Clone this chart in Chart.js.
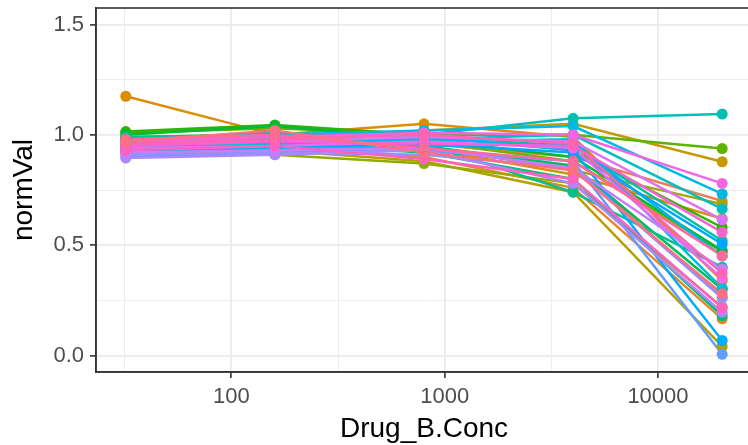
<!DOCTYPE html>
<html>
<head>
<meta charset="utf-8">
<script src="https://cdn.jsdelivr.net/npm/chart.js@4.4.1/dist/chart.umd.min.js"></script>
<style>
  html, body { margin: 0; padding: 0; background: #ffffff; overflow: hidden; }
  #wrap { width: 758px; height: 445px; position: relative; }
</style>
</head>
<body>
<div id="wrap"><canvas id="c"></canvas></div>
<script>
// Drug_B concentrations (x)
const concentrations = [32, 160, 800, 4000, 20000];
// tick labels
const xMajorTicks = [100, 1000, 10000];
const xMinorTicks = [31.6228, 316.228, 3162.28];
const yMajorTicks = [0, 0.5, 1.0, 1.5];
const yMinorTicks = [0.25, 0.75, 1.25];
// normVal per series (one array per well, values at each concentration)
const s01 = [0.95, 0.97, 0.93, 0.86, 0.264];
const s02 = [0.97, 0.99, 0.96, 0.90, 0.70];
const s03 = [0.93, 0.95, 0.90, 0.76, 0.166];
const s04 = [1.175, 1.00, 1.05, 0.99, 0.339];
const s05 = [0.96, 0.98, 0.94, 0.82, 0.62];
const s06 = [0.96, 0.98, 1.02, 1.05, 0.878];
const s07 = [0.92, 0.93, 0.88, 0.74, 0.041];
const s08 = [0.98, 0.96, 0.95, 0.84, 0.686];
const s09 = [0.94, 0.91, 0.87, 0.78, 0.22];
const s10 = [0.99, 1.00, 0.97, 0.88, 0.47];
const s11 = [1.01, 1.03, 1.00, 1.00, 0.938];
const s12 = [1.015, 1.045, 1.00, 0.93, 0.58];
const s13 = [1.00, 1.04, 0.98, 0.90, 0.475];
const s14 = [0.97, 0.98, 0.95, 0.86, 0.30];
const s15 = [0.95, 0.96, 0.92, 0.80, 0.18];
const s16 = [0.99, 1.00, 0.96, 0.74, 0.40];
const s17 = [0.98, 1.01, 0.99, 0.95, 0.52];
const s18 = [0.97, 0.99, 1.00, 1.075, 1.094];
const s19 = [0.96, 0.97, 0.98, 1.00, 0.664];
const s20 = [0.95, 0.96, 0.97, 0.98, 0.305];
const s21 = [0.98, 1.00, 1.02, 1.04, 0.732];
const s22 = [0.93, 0.94, 0.95, 0.96, 0.45];
const s23 = [0.92, 0.94, 0.99, 0.93, 0.068];
const s24 = [0.94, 0.95, 0.96, 0.92, 0.505];
const s25 = [0.90, 0.92, 0.93, 0.88, 0.005];
const s26 = [0.91, 0.92, 0.91, 0.85, 0.26];
const s27 = [0.895, 0.91, 0.93, 0.78, 0.196];
const s28 = [0.92, 0.93, 0.94, 0.85, 0.392];
const s29 = [0.96, 0.97, 0.99, 0.97, 0.615];
const s30 = [0.94, 0.95, 0.97, 0.94, 0.35];
const s31 = [0.97, 0.99, 1.01, 1.00, 0.78];
const s32 = [0.95, 0.97, 0.96, 0.95, 0.558];
const s33 = [0.93, 0.95, 0.89, 0.80, 0.216];
const s34 = [0.96, 0.98, 1.00, 0.96, 0.372];
const s35 = [0.98, 1.00, 0.94, 0.88, 0.452];
const s36 = [0.97, 1.02, 0.92, 0.84, 0.28];
const seriesValues = [s01,s02,s03,s04,s05,s06,s07,s08,s09,s10,s11,s12,s13,s14,s15,s16,s17,s18,
                      s19,s20,s21,s22,s23,s24,s25,s26,s27,s28,s29,s30,s31,s32,s33,s34,s35,s36];

// ggplot2 default hue palette (HCL, c=100, l=65)
function hcl2hex(h, c, l) {
  const Xn = 95.047, Yn = 100.0, Zn = 108.883;
  const un = 4 * Xn / (Xn + 15 * Yn + 3 * Zn);
  const vn = 9 * Yn / (Xn + 15 * Yn + 3 * Zn);
  const hr = h * Math.PI / 180;
  const u = c * Math.cos(hr), v = c * Math.sin(hr);
  const Y = Yn * (l > 8 ? Math.pow((l + 16) / 116, 3) : l / 903.3);
  const up = u / (13 * l) + un, vp = v / (13 * l) + vn;
  const X = Y * 9 * up / (4 * vp);
  const Z = Y * (12 - 3 * up - 20 * vp) / (4 * vp);
  const x = X / 100, y = Y / 100, z = Z / 100;
  let r = 3.240479 * x - 1.537150 * y - 0.498535 * z;
  let g = -0.969256 * x + 1.875992 * y + 0.041556 * z;
  let b = 0.055648 * x - 0.204043 * y + 1.057311 * z;
  const gam = t => t <= 0.0031308 ? 12.92 * t : 1.055 * Math.pow(t, 1 / 2.4) - 0.055;
  const to = t => { let q = Math.round(Math.min(1, Math.max(0, gam(t))) * 255); return q.toString(16).padStart(2, '0'); };
  return '#' + to(r) + to(g) + to(b);
}
function huePal(n) {
  const out = [];
  for (let i = 0; i < n; i++) out.push(hcl2hex(15 + 360 * i / n, 100, 65));
  return out;
}
const colors = huePal(seriesValues.length);

const datasets = [];
// reverse so later series are drawn on top (ggplot order); lines beneath points
for (let i = seriesValues.length - 1; i >= 0; i--) {
  const pts = concentrations.map((x, j) => ({ x: x, y: seriesValues[i][j] }));
  datasets.push({
    label: 'line' + (i + 1), data: pts, order: 2,
    borderColor: colors[i], borderWidth: 2.5, pointRadius: 0, fill: false, tension: 0
  });
}
for (let i = seriesValues.length - 1; i >= 0; i--) {
  const pts = concentrations.map((x, j) => ({ x: x, y: seriesValues[i][j] }));
  datasets.push({
    label: 'pt' + (i + 1), data: pts, order: 1, showLine: false,
    backgroundColor: colors[i], borderWidth: 0, pointRadius: 5.5, pointHoverRadius: 5.5
  });
}

const isMajorX = v => xMajorTicks.some(t => Math.abs(t - v) < 1e-6 * t);
const isMajorY = v => yMajorTicks.some(t => Math.abs(t - v) < 1e-9);

const frame = {
  id: 'frame',
  afterDatasetsDraw(chart) {
    const a = chart.chartArea, ctx = chart.ctx;
    ctx.save();
    ctx.strokeStyle = '#333333';
    ctx.lineWidth = 1.6;
    ctx.strokeRect(a.left, a.top, a.right - a.left, a.bottom - a.top);
    ctx.restore();
  }
};

const FONT = "'Liberation Sans', Arial, Helvetica, sans-serif";
const zeroPad = s => { s.paddingTop = 0; s.paddingBottom = 0; s.paddingLeft = 0; s.paddingRight = 0; };

new Chart(document.getElementById('c'), {
  type: 'line',
  data: { datasets: datasets },
  plugins: [frame],
  options: {
    responsive: true, maintainAspectRatio: false, animation: false,
    layout: { padding: { left: 4, right: 6, top: 8, bottom: -1 } },
    plugins: { legend: { display: false }, tooltip: { enabled: false } },
    scales: {
      x: {
        type: 'logarithmic',
        min: 23.19, max: 27595,
        afterBuildTicks: s => { s.ticks = xMinorTicks.concat(xMajorTicks).sort((a, b) => a - b).map(v => ({ value: v })); },
        afterFit: s => { zeroPad(s); s.height -= 6; },
        ticks: {
          autoSkip: false, maxRotation: 0, padding: 6,
          color: '#4d4d4d', font: { family: FONT, size: 22 },
          callback: v => isMajorX(v) ? String(Math.round(v)) : ''
        },
        grid: {
          color: '#ebebeb',
          lineWidth: c => (c.tick && isMajorX(c.tick.value)) ? 1.8 : 0.9,
          tickColor: c => (c.tick && isMajorX(c.tick.value)) ? '#333333' : 'rgba(0,0,0,0)',
          tickLength: 6, tickWidth: 1.6
        },
        border: { display: true, color: '#333333', width: 1.6 },
        title: { display: true, text: 'Drug_B.Conc', color: '#000000', font: { family: FONT, size: 28 }, padding: { top: 2, bottom: 0 } }
      },
      y: {
        type: 'linear',
        min: -0.075, max: 1.575,
        afterBuildTicks: s => { s.ticks = yMinorTicks.concat(yMajorTicks).sort((a, b) => a - b).map(v => ({ value: v })); },
        afterFit: zeroPad,
        ticks: {
          autoSkip: false, padding: 6,
          color: '#4d4d4d', font: { family: FONT, size: 22 },
          callback: v => isMajorY(v) ? v.toFixed(1) : ''
        },
        grid: {
          color: '#ebebeb',
          lineWidth: c => (c.tick && isMajorY(c.tick.value)) ? 1.8 : 0.9,
          tickColor: c => (c.tick && isMajorY(c.tick.value)) ? '#333333' : 'rgba(0,0,0,0)',
          tickLength: 6, tickWidth: 1.6
        },
        border: { display: true, color: '#333333', width: 1.6 },
        title: { display: true, text: 'normVal', color: '#000000', font: { family: FONT, size: 28 }, padding: { top: 3, bottom: 6.8 } }
      }
    }
  }
});
</script>
</body>
</html>
